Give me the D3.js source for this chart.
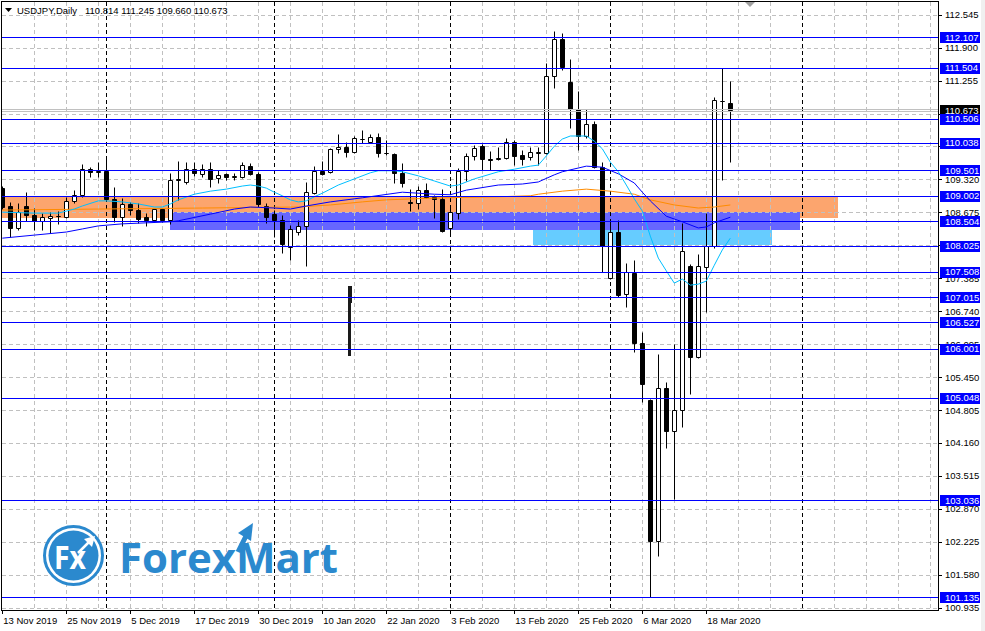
<!DOCTYPE html>
<html>
<head>
<meta charset="utf-8">
<title>USDJPY,Daily</title>
<style>
    body { margin: 0; background: #fff; }
    svg { display: block; }
    text { font-family: "Liberation Sans", Arial, sans-serif; font-size: 9.5px; }
    text.logo { font-family: "Open Sans", sans-serif; font-weight: bold; }
</style>
</head>
<body>
<script src="https://cdn.jsdelivr.net/npm/d3@7/dist/d3.min.js"></script>
<script>
// daily bars, 13 Nov 2019 .. 23 Mar 2020 : [open, high, low, close]
const candles = [
    [109.15,109.19,108.74,108.78],[108.80,108.88,108.19,108.37],[108.37,108.86,108.33,108.68],
    [108.80,109.07,108.51,108.62],[108.62,108.76,108.33,108.51],[108.51,108.66,108.33,108.58],
    [108.57,108.68,108.27,108.60],[108.60,108.70,108.45,108.61],[108.58,108.98,108.56,108.90],
    [108.90,109.11,108.86,109.02],[109.02,109.62,108.98,109.52],[109.52,109.56,109.37,109.47],
    [109.47,109.66,109.37,109.49],[109.49,109.76,108.92,108.94],[108.94,109.17,108.49,108.58],
    [108.58,108.96,108.41,108.84],[108.84,108.88,108.62,108.72],[108.72,108.86,108.47,108.55],
    [108.58,108.66,108.41,108.52],[108.52,108.76,108.49,108.74],[108.74,108.76,108.49,108.52],
    [108.52,109.45,108.45,109.31],[109.31,109.68,108.92,109.33],[109.27,109.66,109.23,109.52],
    [109.52,109.66,109.39,109.45],[109.43,109.62,109.37,109.52],[109.52,109.66,109.17,109.33],
    [109.35,109.50,109.25,109.41],[109.43,109.45,109.31,109.37],[109.37,109.45,109.31,109.38],
    [109.37,109.66,109.35,109.60],[109.58,109.64,109.41,109.43],[109.43,109.47,108.78,108.84],
    [108.80,108.86,108.47,108.58],[108.64,108.72,108.19,108.53],[108.53,108.62,107.88,108.06],
    [108.00,108.43,107.74,108.35],[108.29,108.53,108.23,108.41],[108.41,109.27,107.63,109.07],
    [109.05,109.58,109.04,109.49],[109.49,109.68,109.41,109.43],[109.46,109.94,109.44,109.92],
    [109.92,110.21,109.84,109.96],[109.96,110.05,109.76,109.86],[109.86,110.17,109.84,110.13],
    [110.11,110.29,110.03,110.12],[110.05,110.21,110.03,110.15],[110.15,110.23,109.76,109.84],
    [109.84,110.09,109.80,109.83],[109.82,109.84,109.25,109.45],[109.45,109.64,109.17,109.25],
    [108.87,109.13,108.70,108.86],[108.86,109.19,108.74,109.11],[109.11,109.25,108.96,108.98],
    [108.98,109.02,108.56,108.94],[108.94,109.13,108.29,108.31],[108.37,108.80,108.27,108.68],
    [108.66,109.54,108.55,109.49],[109.49,109.84,109.29,109.78],[109.78,109.99,109.70,109.94],
    [109.97,110.01,109.50,109.72],[109.72,109.88,109.50,109.71],[109.72,109.96,109.71,109.74],
    [109.74,110.13,109.72,110.05],[110.05,110.09,109.60,109.78],[109.80,109.90,109.60,109.72],
    [109.76,109.96,109.70,109.86],[109.84,109.96,109.60,109.85],[109.84,111.60,109.82,111.35],
    [111.35,112.23,111.11,112.07],[112.07,112.19,111.46,111.52],[111.23,111.68,110.33,110.70],
    [110.70,111.05,109.90,110.17],[110.17,110.70,110.13,110.41],[110.41,110.46,109.54,109.56],
    [109.56,109.66,107.51,108.02],[107.39,108.53,107.37,108.29],[108.29,108.53,107.02,107.06],
    [107.08,107.68,106.82,107.51],[107.49,107.74,105.94,106.12],[106.12,106.33,104.96,105.31],
    [105.00,105.03,101.14,102.24],[102.24,105.90,101.95,105.24],[105.24,105.35,104.06,104.39],
    [104.39,106.10,103.06,104.81],[104.80,108.47,104.47,107.92],[107.63,107.66,105.12,105.84],
    [105.84,107.86,105.82,107.63],[107.60,108.66,106.72,108.02],[108.02,110.93,107.98,110.88],
    [110.86,111.50,109.31,110.85],[110.814,111.245,109.660,110.673]
];

// moving averages: [bar, price]
const maFast = [
    [0,108.68],[4,108.66],[7,108.66],[9,108.74],[10,108.80],[12,108.90],[13,108.90],[15,108.88],
    [17,108.84],[19,108.78],[20,108.78],[21,108.84],[22,108.92],[24,109.03],[26,109.09],[28,109.13],
    [30,109.19],[31,109.21],[32,109.19],[33,109.15],[34,109.07],[35,109.00],[36,108.92],[37,108.88],
    [38,108.90],[39,108.98],[40,109.05],[42,109.21],[44,109.33],[46,109.45],[47,109.49],[49,109.49],
    [50,109.47],[52,109.39],[54,109.29],[56,109.19],[57,109.21],[59,109.33],[62,109.47],[64,109.52],
    [66,109.58],[67,109.60],[68,109.78],[69,109.97],[70,110.11],[71,110.17],[72,110.17],[73,110.17],
    [74,110.07],[75,109.92],[76,109.66],[77,109.47],[78,109.21],[79,108.94],[80,108.70],[81,108.21],
    [82,107.78],[83,107.53],[84,107.29],[85,107.37],[86,107.25],[87,107.27],[88,107.33],[89,107.64],
    [90,107.94],[91,108.17]
];
const maMid = [
    [0,108.17],[4,108.23],[8,108.29],[10,108.35],[12,108.41],[15,108.45],[18,108.47],[21,108.49],
    [22,108.51],[26,108.64],[29,108.74],[31,108.78],[34,108.76],[36,108.74],[38,108.80],[41,108.88],
    [45,108.96],[50,109.07],[54,109.03],[56,109.02],[58,109.11],[62,109.21],[65,109.23],[67,109.27],
    [69,109.41],[70,109.47],[73,109.58],[75,109.56],[77,109.43],[79,109.25],[80,109.07],[81,108.90],
    [83,108.60],[85,108.49],[87,108.37],[88,108.39],[89,108.47],[91,108.58]
];
const maSlow = [
    [0,108.72],[12,108.74],[25,108.76],[37,108.78],[41,108.82],[45,108.88],[48,108.92],[55,108.96],
    [62,108.98],[66,109.00],[67,109.03],[70,109.09],[73,109.13],[76,109.09],[79,109.03],[81,108.92],
    [84,108.82],[87,108.76],[89,108.78],[91,108.82]
];

// horizontal levels and zones
const levels = [112.107, 111.504, 110.506, 110.038, 109.501, 109.002, 108.504, 108.025,
                107.508, 107.015, 106.527, 106.001, 105.048, 103.036, 101.135];
// [fromBar, toBar, highPrice, lowPrice]
const zoneSupply = [-1, 104.5, 108.995, 108.565];
const zonePivot = [21, 99.7, 108.682, 108.330];
const zoneSupport = [66.3, 96.2, 108.330, 108.036];
// stray print: [bar, top, bodyEnd, bottom]
const strayBar = [43.5, 107.23, 106.91, 105.86];

const bidPrice = 110.673;
const priceTicks = [112.545, 111.900, 111.255, 110.610, 109.965, 109.320, 108.675, 108.030, 107.385,
                    106.740, 106.095, 105.450, 104.805, 104.160, 103.515, 102.870, 102.225, 101.580, 100.935];
const tickBars = [0, 8, 16, 24, 32, 40, 48, 56, 64, 72, 80, 88];
const tickLabels = ["13 Nov 2019", "25 Nov 2019", "5 Dec 2019", "17 Dec 2019", "30 Dec 2019", "10 Jan 2020",
                    "22 Jan 2020", "3 Feb 2020", "13 Feb 2020", "25 Feb 2020", "6 Mar 2020", "18 Mar 2020"];
const separatorBars = [13, 34, 56, 76, 100];

const W = 985, H = 631;
const plotL = 2, plotR = 938, plotT = 2, plotB = 610;

const svg = d3.select("body").append("svg")
    .attr("width", W)
    .attr("height", H);

svg.append("rect").attr("width", W).attr("height", H).attr("fill", "#fff");
svg.append("rect").attr("x", 981).attr("width", 4).attr("height", H).attr("fill", "#f0f0f0");

const x = d3.scaleLinear().domain([0, 117]).range([2.3, 938.3]);
const y = d3.scaleLinear().domain([100.935, 112.545]).range([607.7, 14.7]);
const px = v => Math.round(v) + 0.5;

svg.append("clipPath").attr("id", "plotclip")
    .append("rect").attr("x", plotL).attr("y", plotT).attr("width", plotR - plotL).attr("height", plotB - plotT);

const plot = svg.append("g").attr("clip-path", "url(#plotclip)");

// zones
[[zoneSupply, "#fca56e"], [zonePivot, "#6666ff"], [zoneSupport, "#66ccff"]].forEach(([z, c]) => {
    plot.append("rect")
        .attr("x", Math.round(x(z[0])))
        .attr("width", Math.round(x(z[1])) - Math.round(x(z[0])))
        .attr("y", Math.round(y(z[2])))
        .attr("height", Math.round(y(z[3])) - Math.round(y(z[2])))
        .attr("fill", c);
});

// grid
plot.selectAll(".hgrid").data(priceTicks).join("line")
    .attr("x1", plotL).attr("x2", plotR)
    .attr("y1", d => px(y(d))).attr("y2", d => px(y(d)))
    .attr("stroke", "#c0c0c0").attr("stroke-dasharray", "4,3");

plot.selectAll(".vgrid").data(d3.range(4, 118, 4)).join("line")
    .attr("x1", d => px(x(d))).attr("x2", d => px(x(d)))
    .attr("y1", plotT).attr("y2", plotB)
    .attr("stroke", "#c0c0c0").attr("stroke-dasharray", "4,3");

plot.selectAll(".sep").data(separatorBars).join("line")
    .attr("x1", d => px(x(d))).attr("x2", d => px(x(d)))
    .attr("y1", plotT).attr("y2", plotB)
    .attr("stroke", "#000").attr("stroke-dasharray", "4,3");

// logo
const logoBlue = "#2b89ce";
const logo = svg.append("g");
logo.append("circle").attr("cx", 73.5).attr("cy", 555.5).attr("r", 29)
    .attr("fill", "#fff").attr("stroke", logoBlue).attr("stroke-width", 3);
logo.append("circle").attr("cx", 73.5).attr("cy", 555.5).attr("r", 25).attr("fill", logoBlue);
logo.append("text").attr("class", "logo").attr("x", 54).attr("y", 569)
    .style("font-size", "33px").attr("textLength", 32).attr("lengthAdjust", "spacingAndGlyphs")
    .attr("fill", "#fff").text("Fx");
logo.append("line").attr("x1", 78).attr("y1", 553).attr("x2", 89).attr("y2", 542)
    .attr("stroke", "#fff").attr("stroke-width", 2.5);
logo.append("path").attr("d", "M95,536 L84,539 L92,547 Z").attr("fill", "#fff");
logo.append("text").attr("class", "logo").attr("x", 119).attr("y", 573)
    .style("font-size", "41px").attr("textLength", 219).attr("lengthAdjust", "spacingAndGlyphs")
    .attr("fill", logoBlue).text("ForexMart");
logo.append("line").attr("x1", 238).attr("y1", 552).attr("x2", 247).attr("y2", 534)
    .attr("stroke", logoBlue).attr("stroke-width", 5);
logo.append("path").attr("d", "M253,523 L238,533 L251,541 Z").attr("fill", logoBlue);

// stray print
plot.append("rect").attr("x", Math.round(x(strayBar[0])) - 2).attr("width", 4)
    .attr("y", Math.round(y(strayBar[1]))).attr("height", Math.round(y(strayBar[2])) - Math.round(y(strayBar[1])))
    .attr("fill", "#1a1a1a");
plot.append("rect").attr("x", Math.round(x(strayBar[0])) - 2).attr("width", 3)
    .attr("y", Math.round(y(strayBar[2]))).attr("height", Math.round(y(strayBar[3])) - Math.round(y(strayBar[2])))
    .attr("fill", "#1a1a1a");

// candles
const bar = plot.selectAll(".bar").data(candles).join("g").attr("class", "bar");
bar.append("line")
    .attr("x1", (d, i) => px(x(i))).attr("x2", (d, i) => px(x(i)))
    .attr("y1", d => px(y(d[1]))).attr("y2", d => px(y(d[2])))
    .attr("stroke", "#000");
bar.append("path")
    .attr("d", (d, i) => {
        const cx = px(x(i));
        const y0 = px(y(Math.max(d[0], d[3]))), y1 = px(y(Math.min(d[0], d[3])));
        return `M${cx - 2},${y0}H${cx + 2}V${y1}H${cx - 2}Z`;
    })
    .attr("fill", d => d[3] >= d[0] ? "#fff" : "#000")
    .attr("stroke", "#000");

// moving averages
const line = d3.line().x(d => x(d[0])).y(d => y(d[1]));
[[maSlow, "#ff8c00"], [maMid, "#0000ff"], [maFast, "#00bfff"]].forEach(([s, c]) => {
    plot.append("path").attr("d", line(s)).attr("fill", "none").attr("stroke", c).attr("stroke-width", 1);
});

// bid line
[-1, 1].forEach(o => {
    plot.append("line").attr("x1", plotL).attr("x2", plotR)
        .attr("y1", px(y(bidPrice)) + o).attr("y2", px(y(bidPrice)) + o)
        .attr("stroke", "#c0c0c0");
});

// level lines
plot.selectAll(".level").data(levels).join("line")
    .attr("x1", plotL).attr("x2", plotR)
    .attr("y1", d => px(y(d))).attr("y2", d => px(y(d)))
    .attr("stroke", "#0000ff").attr("stroke-width", 1.2);

// top marker
svg.append("path").attr("d", "M745,2 L755,2 L750,7 Z").attr("fill", "#a0a0a0");

// frame
svg.append("rect").attr("x", 1.5).attr("y", 1.5).attr("width", plotR - 1).attr("height", plotB - 1)
    .attr("fill", "none").attr("stroke", "#000");

// price axis: labels fully covered by a level or bid box are left out, as on screen
const boxed = levels.concat([bidPrice]);
const shownTicks = priceTicks.filter(t => !boxed.some(b => Math.abs(y(b) - y(t)) < 4.5));
svg.selectAll(".ptick").data(priceTicks).join("line")
    .attr("x1", plotR).attr("x2", plotR + 4)
    .attr("y1", d => px(y(d))).attr("y2", d => px(y(d)))
    .attr("stroke", "#000");
svg.selectAll(".plabel").data(shownTicks).join("text")
    .attr("x", 945).attr("y", d => y(d) + 3.5)
    .attr("fill", "#000")
    .text(d => d.toFixed(3));

// bid label
svg.append("rect").attr("x", 940).attr("y", Math.round(y(bidPrice)) - 5).attr("width", 40).attr("height", 11).attr("fill", "#000");
svg.append("text").attr("x", 945).attr("y", y(bidPrice) + 3.5).attr("fill", "#fff").text(bidPrice.toFixed(3));

// level labels
const lv = svg.selectAll(".lv").data(levels).join("g");
lv.append("rect").attr("x", 940).attr("y", d => Math.round(y(d)) - 5).attr("width", 40).attr("height", 11).attr("fill", "#0000ff");
lv.append("text").attr("x", 945).attr("y", d => y(d) + 3.5).attr("fill", "#fff").text(d => d.toFixed(3));

// time axis
svg.selectAll(".xtick").data(tickBars).join("line")
    .attr("x1", d => px(x(d))).attr("x2", d => px(x(d)))
    .attr("y1", plotB).attr("y2", plotB + 4)
    .attr("stroke", "#000");
svg.selectAll(".xlabel").data(tickBars).join("text")
    .attr("x", d => x(d) + 1).attr("y", 624)
    .attr("fill", "#000")
    .text((d, i) => tickLabels[i]);

// header
const last = candles[candles.length - 1];
svg.append("path").attr("d", "M5,8 L12,8 L8.5,12 Z").attr("fill", "#000");
svg.append("text").attr("x", 17).attr("y", 13.5).text("USDJPY,Daily");
svg.append("text").attr("x", 85).attr("y", 13.5).text(last.map(v => v.toFixed(3)).join(" "));
</script>
</body>
</html>
